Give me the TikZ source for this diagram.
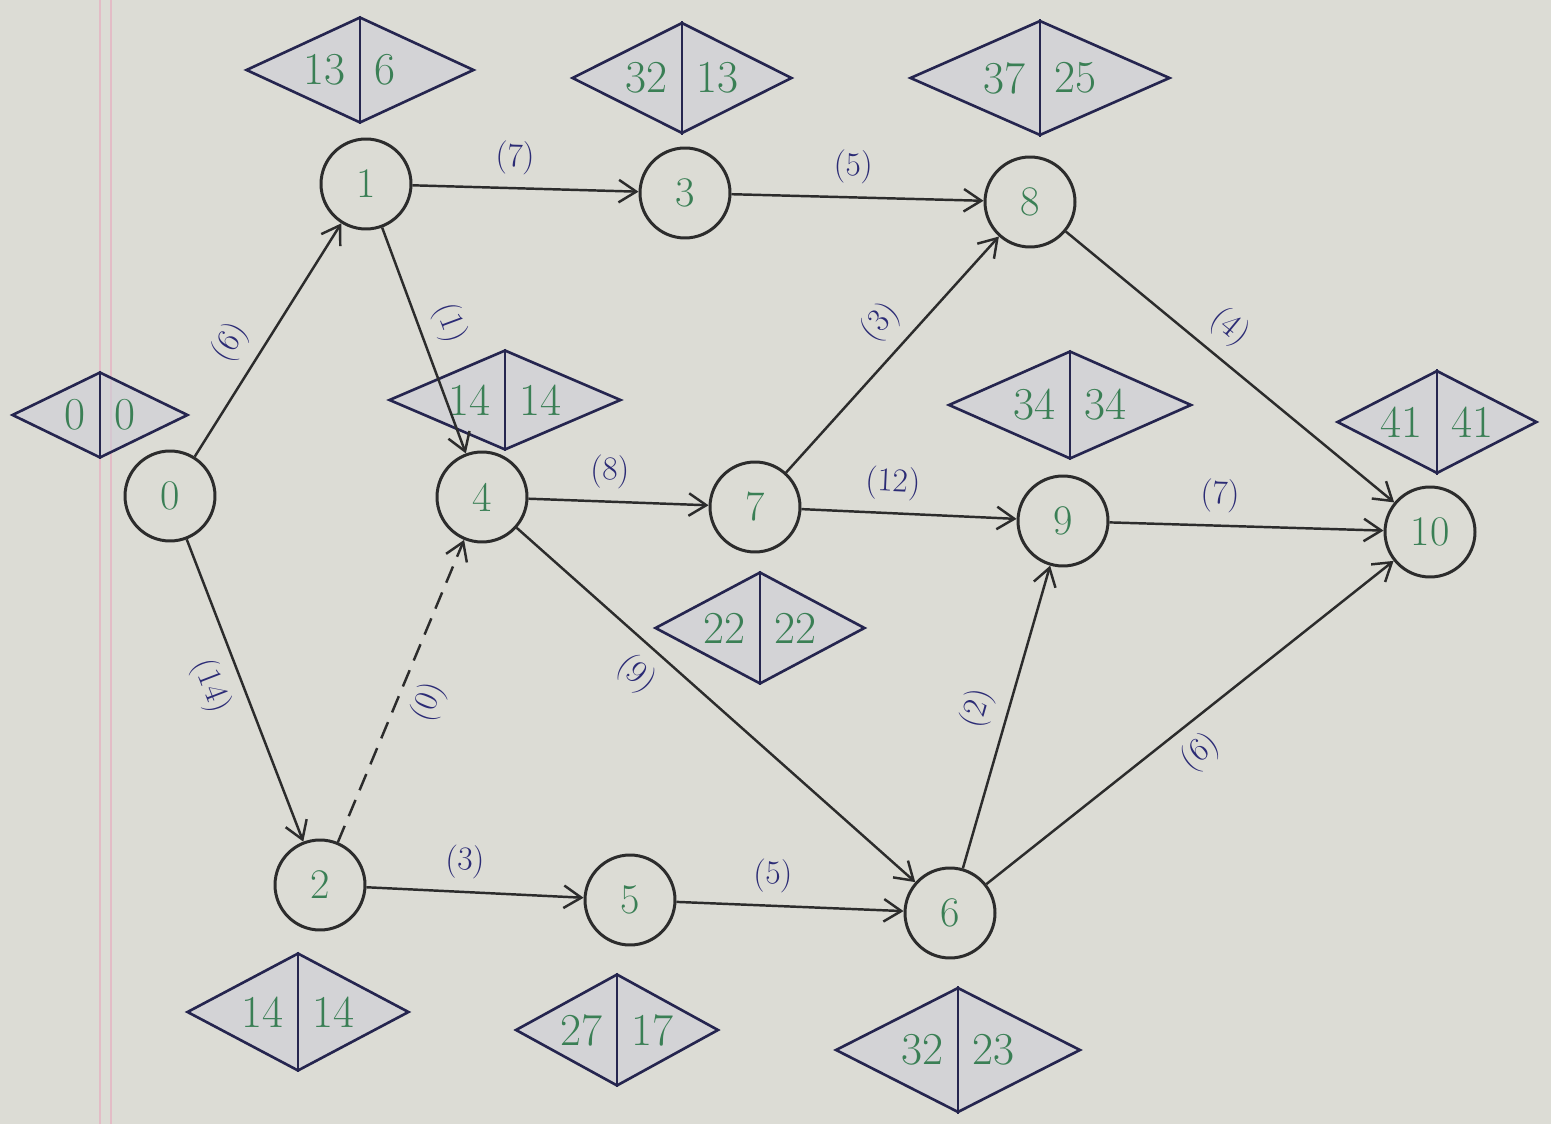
\documentclass[tikz,border=0pt]{standalone}
\usepackage{xcolor}
\usepackage{tikz}
\usetikzlibrary{arrows.meta,positioning,calc,shapes.geometric}
\definecolor{Paper}{HTML}{DCDCD5}
\definecolor{Ink}{HTML}{2C2C2C}
\definecolor{Navy}{HTML}{25254F}
\definecolor{Pen}{HTML}{2B2B75}
\definecolor{Green}{HTML}{3A7F55}
\definecolor{Margin}{HTML}{E3BCC6}

\begin{document}
\begin{tikzpicture}[x=0.02cm,y=-0.02cm,
    event/.style={circle,draw=Ink,line width=1.7pt,fill=Paper,minimum size=1.8cm,inner sep=0pt,text=Green,font=\fontsize{24}{28}\selectfont},
    slack/.style={diamond,draw=Navy,line width=1.5pt,inner sep=0pt,fill=Paper!93!blue,fill opacity=0.6},
    num/.style={text=Green,font=\fontsize{26}{30}\selectfont,inner sep=2pt},
    act/.style={-{Straight Barb[length=3.5mm,width=4.5mm,line width=1.4pt]},draw=Ink,line width=1.4pt},
    dummy/.style={act,dash pattern=on 10pt off 6pt},
    dur/.style={text=Pen,font=\fontsize{19}{23}\selectfont,sloped,inner sep=7pt}
]
% paper
\fill[Paper] (0,0) rectangle (1551,1124);
\useasboundingbox (0,0) rectangle (1551,1124);
\draw[Margin,line width=1.2pt] (100,0) -- (100,1124);
\draw[Margin,line width=1.2pt] (111,0) -- (111,1124);

% time diamonds: late | early
\foreach \n/\x/\y/\w/\h/\l/\r in {0/100/415/176/86/0/0, 1/360/70/228/106/13/6,
    3/682/78/220/111/32/13, 8/1040/78/260/115/37/25, 4/505/400/232/100/14/14,
    9/1070/405/243/108/34/34, 10/1437/422/200/103/41/41, 7/760/628/210/112/22/22,
    2/298/1012/222/118/14/14, 5/617/1030/203/112/27/17, 6/958/1050/245/125/32/23}{
  \node[slack,minimum width=\w*0.02cm,minimum height=\h*0.02cm] (d\n) at (\x,\y) {};
  \draw[Navy,line width=1.5pt] (d\n.north) -- (d\n.south);
  \node[num,anchor=east] (l\n) at ([xshift=-6pt]d\n.center) {\l};
  \node[num,anchor=west] (r\n) at ([xshift=6pt]d\n.center) {\r};
}

% events
\node[event] (e0) at (170,496) {0};
\node[event] (e1) at (366,184) {1};
\node[event] (e2) at (320,885) {2};
\node[event] (e3) at (685,193) {3};
\node[event] (e4) at (482,497) {4};
\node[event] (e5) at (630,900) {5};
\node[event] (e6) at (950,913) {6};
\node[event] (e7) at (755,507) {7};
\node[event] (e8) at (1030,202) {8};
\node[event] (e9) at (1063,521) {9};
\node[event] (e10) at (1430,532) {10};

% activities
\draw[act] (e0) -- node[dur,pos=0.42,above] (a01) {(6)} (e1);
\draw[act] (e0) -- node[dur,pos=0.45,below] (a02) {(14)} (e2);
\draw[act] (e1) -- node[dur,pos=0.45,above] (a13) {(7)} (e3);
\draw[act] (e1) -- node[dur,pos=0.47,above] (a14) {(1)} (e4);
\draw[act] (e3) -- node[dur,pos=0.48,above] (a38) {(5)} (e8);
\draw[dummy] (e2) -- node[dur,pos=0.5,below] (a24) {(0)} (e4);
\draw[act] (e2) -- node[dur,pos=0.45,above] (a25) {(3)} (e5);
\draw[act] (e4) -- node[dur,pos=0.45,above] (a47) {(8)} (e7);
\draw[act] (e4) -- node[dur,pos=0.35,below] (a46) {(9)} (e6);
\draw[act] (e5) -- node[dur,pos=0.42,above] (a56) {(5)} (e6);
\draw[act] (e7) -- node[dur,pos=0.55,above] (a78) {(3)} (e8);
\draw[act] (e7) -- node[dur,pos=0.42,above] (a79) {(12)} (e9);
\draw[act] (e6) -- node[dur,pos=0.5,above] (a69) {(2)} (e9);
\draw[act] (e6) -- node[dur,pos=0.48,below] (a610) {(6)} (e10);
\draw[act] (e8) -- node[dur,pos=0.44,above] (a810) {(4)} (e10);
\draw[act] (e9) -- node[dur,pos=0.4,above] (a910) {(7)} (e10);
\end{tikzpicture}
\end{document}
